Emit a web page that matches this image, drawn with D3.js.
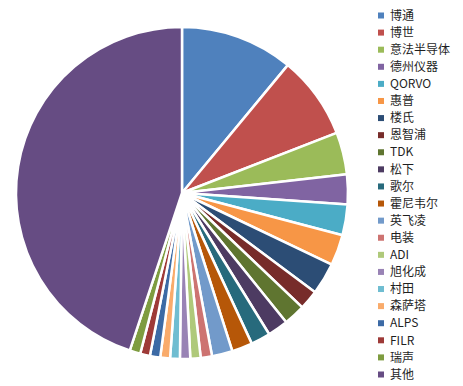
<!DOCTYPE html>
<html>
<head>
<meta charset="utf-8">
<script src="https://cdn.jsdelivr.net/npm/d3@7/dist/d3.min.js"></script>
<style>
  html, body { margin: 0; padding: 0; background: #fff; }
  svg { display: block; }
</style>
</head>
<body>
<svg id="chart" width="463" height="386"></svg>
<script>
// Market share by vendor (%)
const vendors = ["博通", "博世", "意法半导体", "德州仪器", "QORVO", "惠普", "楼氏", "恩智浦",
  "TDK", "松下", "歌尔", "霍尼韦尔", "英飞凌", "电装", "ADI", "旭化成", "村田", "森萨塔",
  "ALPS", "FILR", "瑞声", "其他"];
const shares = [11.0, 8.1, 4.1, 2.9, 3.0, 3.0, 3.1, 1.9, 2.1, 2.0, 1.9, 2.0, 2.0, 1.1,
  1.0, 1.0, 0.95, 0.95, 1.0, 0.95, 1.05, 44.9];
const palette = ["#4F81BD", "#C0504D", "#9BBB59", "#8064A2", "#4BACC6", "#F79646",
  "#2C4D75", "#772C2A", "#5F7530", "#4D3B62", "#276A7C", "#B65708",
  "#729ACA", "#CD7371", "#AFC97A", "#9983B5", "#6FBDD1", "#F9AB6B",
  "#3C6AA5", "#9E3A38", "#7E9C40", "#664C83"];

const data = vendors.map((name, i) => ({ name, value: shares[i] }));

const svg = d3.select("#chart");
const cx = 182, cy = 193, radius = 166;

const color = d3.scaleOrdinal().domain(vendors).range(palette);

const pie = d3.pie().value(d => d.value).sort(null).startAngle(0).endAngle(2 * Math.PI);
const arc = d3.arc().innerRadius(0).outerRadius(radius);

svg.append("g")
  .attr("transform", `translate(${cx},${cy})`)
  .selectAll("path")
  .data(pie(data))
  .join("path")
  .attr("d", arc)
  .attr("fill", d => color(d.data.name))
  .attr("stroke", "#fff")
  .attr("stroke-width", 2.5)
  .attr("stroke-linejoin", "round");

// Legend
const legendY = d3.scalePoint().domain(vendors).range([15.5, 374.5]);
const legend = svg.append("g")
  .selectAll("g")
  .data(vendors)
  .join("g")
  .attr("transform", d => `translate(381,${legendY(d)})`);

legend.append("rect")
  .attr("x", -3).attr("y", -3)
  .attr("width", 6).attr("height", 6)
  .attr("fill", d => color(d));

legend.append("text")
  .attr("x", 9)
  .attr("dy", "0.35em")
  .attr("font-family", "'Noto Sans CJK SC', 'Noto Sans', sans-serif")
  .attr("font-size", 12)
  .attr("fill", "#1f1f1f")
  .text(d => d);
</script>
</body>
</html>
